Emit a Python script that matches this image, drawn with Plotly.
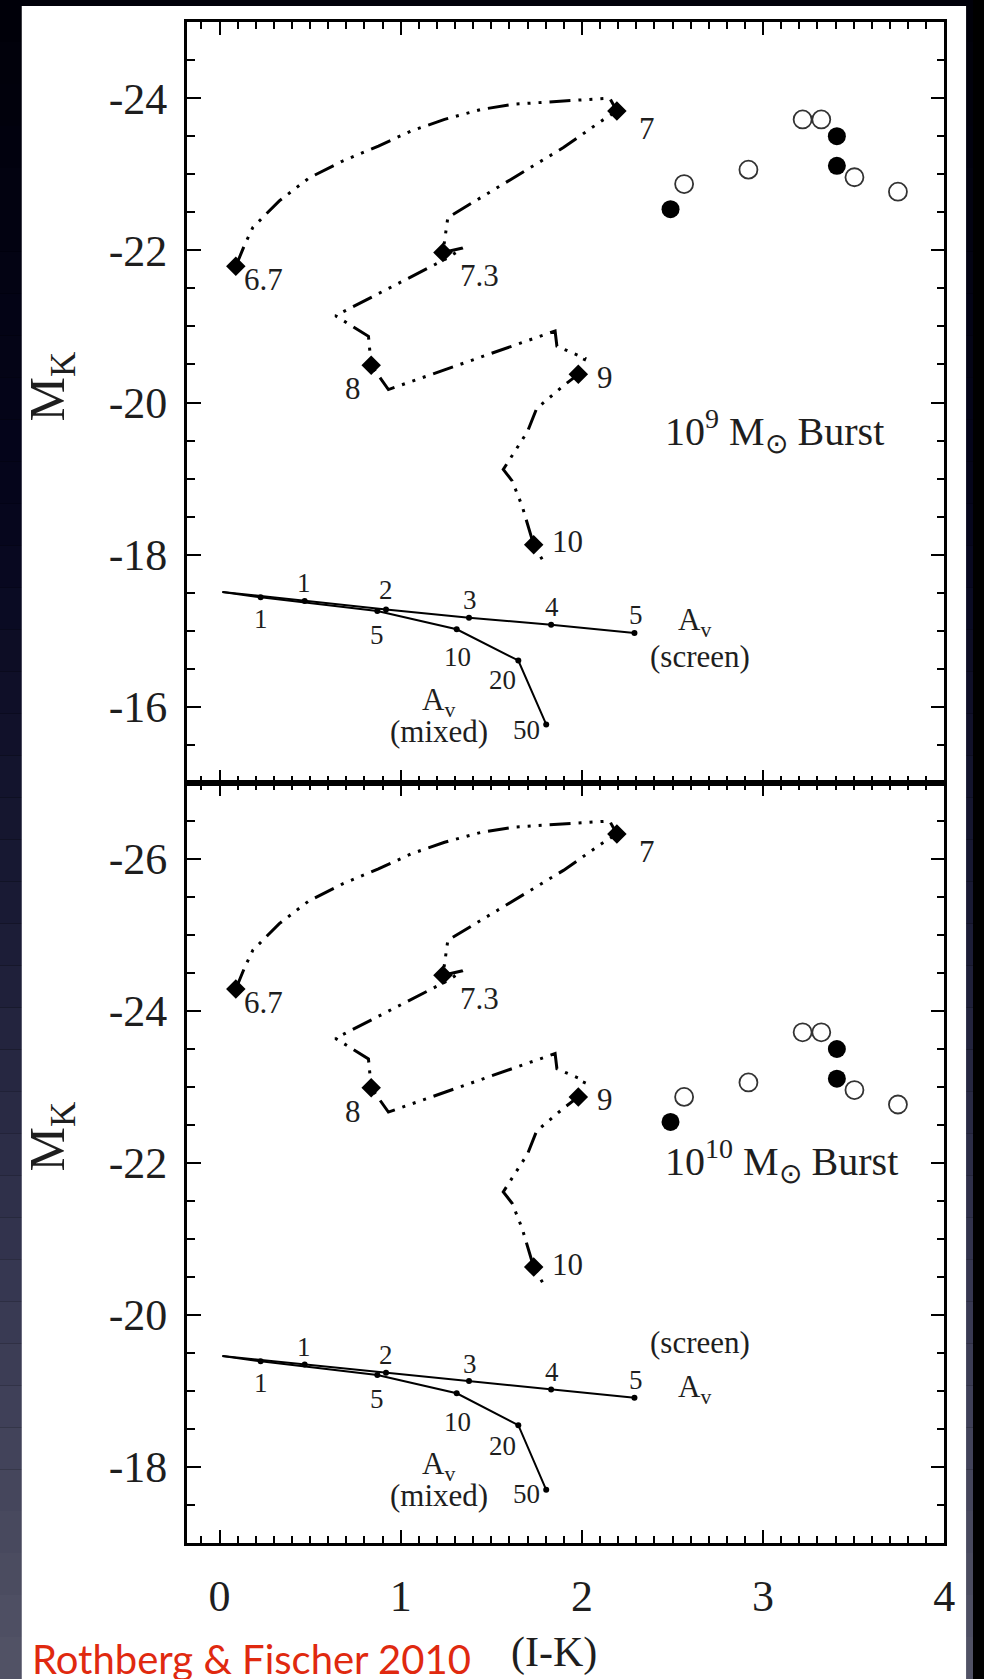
import plotly.graph_objects as go

W, H = 984, 1679
SERIF = "Liberation Serif, Times New Roman, serif"

# ---------------- data ----------------
# evolutionary track (I-K, M_K) for the 10^9 Msun burst (top panel)
track_x = [0.090, 0.140, 0.184, 0.330, 0.494, 0.677, 0.877, 1.060, 1.242, 1.442,
           1.625, 1.807, 1.989, 2.153, 2.193, 2.108, 1.898, 1.533, 1.260, 1.233,
           1.342, 1.260, 0.987, 0.640, 0.822, 0.837, 0.932, 1.852, 1.862, 2.017,
           1.980, 1.898, 1.750, 1.700, 1.625, 1.566, 1.615, 1.670, 1.734, 1.785]
track_m_top = [-21.79, -22.08, -22.30, -22.65, -22.95, -23.17, -23.37, -23.57, -23.72, -23.85,
               -23.92, -23.95, -23.98, -24.00, -23.83, -23.70, -23.35, -22.82, -22.43, -21.97,
               -22.03, -21.90, -21.57, -21.14, -20.87, -20.49, -20.17, -20.94, -20.74, -20.58,
               -20.37, -20.22, -19.92, -19.62, -19.34, -19.12, -18.97, -18.64, -18.13, -17.92]
# 10^10 Msun burst (bottom panel)
track_m_bot = [-24.29, -24.58, -24.80, -25.15, -25.45, -25.67, -25.87, -26.07, -26.22, -26.35,
               -26.42, -26.45, -26.48, -26.50, -26.33, -26.20, -25.85, -25.32, -24.93, -24.47,
               -24.53, -24.40, -24.07, -23.64, -23.37, -22.99, -22.67, -23.44, -23.24, -23.08,
               -22.87, -22.72, -22.42, -22.12, -21.84, -21.62, -21.47, -21.14, -20.63, -20.42]

age_labels = ["6.7", "7", "7.3", "8", "9", "10"]
age_x = [0.090, 2.193, 1.233, 0.837, 1.980, 1.734]
age_m_top = [-21.79, -23.83, -21.97, -20.49, -20.37, -18.13]
age_m_bot = [-24.29, -26.33, -24.47, -22.99, -22.87, -20.63]
age_lab_x = [0.243, 2.360, 1.433, 0.737, 2.130, 1.920]
age_lab_m_top = [-21.61, -23.60, -21.67, -20.18, -20.33, -18.17]
age_lab_m_bot = [-24.11, -26.10, -24.17, -22.68, -22.83, -20.67]

# observed galaxies
gal_open_x = [2.564, 2.919, 3.218, 3.321, 3.504, 3.744]
gal_open_m = [-22.87, -23.06, -23.72, -23.72, -22.96, -22.77]
gal_fill_x = [2.489, 3.407, 3.407]
gal_fill_m = [-22.54, -23.50, -23.11]

# reddening vectors (first point = origin)
screen_x = [0.016, 0.470, 0.919, 1.377, 1.830, 2.290]
screen_m_top = [-17.51, -17.39, -17.28, -17.17, -17.08, -16.97]
screen_m_bot = [-19.46, -19.35, -19.24, -19.13, -19.02, -18.91]
screen_labels = ["1", "2", "3", "4", "5"]
screen_lab_x = [0.464, 0.921, 1.380, 1.835, 2.297]
screen_lab_m_top = [-17.63, -17.53, -17.41, -17.31, -17.21]
screen_lab_m_bot = [-19.58, -19.47, -19.36, -19.25, -19.15]

mixed_x = [0.016, 0.227, 0.871, 1.309, 1.649, 1.803]
mixed_m_top = [-17.51, -17.44, -17.26, -17.02, -16.61, -15.77]
mixed_m_bot = [-19.46, -19.39, -19.21, -18.97, -18.55, -17.70]
mixed_labels = ["1", "5", "10", "20", "50"]
mixed_lab_x = [0.228, 0.869, 1.312, 1.562, 1.692]
mixed_lab_m_top = [-17.15, -16.95, -16.65, -16.35, -15.70]
mixed_lab_m_bot = [-19.10, -18.89, -18.59, -18.28, -17.64]

x_ticks = [0, 1, 2, 3, 4]
x_ticktext = ["0", "1", "2", "3", "4"]
y_ticks_top = [-24, -22, -20, -18, -16]
y_ticktext_top = ["-24", "-22", "-20", "-18", "-16"]
y_ticks_bot = [-26, -24, -22, -20, -18]
y_ticktext_bot = ["-26", "-24", "-22", "-20", "-18"]

# ---------------- figure ----------------
fig = go.Figure()

TXT = "#1e1e1e"
DASH = "21px,8px,3px,8px,3px,8px,3px,8px"


def panel(xa, ya, tm, am, sm, mm):
    fig.add_trace(go.Scatter(x=track_x, y=tm, xaxis=xa, yaxis=ya, mode="lines",
                             line=dict(color="black", width=3, dash=DASH),
                             hoverinfo="skip", showlegend=False))
    fig.add_trace(go.Scatter(x=age_x, y=am, xaxis=xa, yaxis=ya, mode="markers",
                             marker=dict(symbol="diamond", size=15, color="black"),
                             hoverinfo="skip", showlegend=False))
    fig.add_trace(go.Scatter(x=gal_open_x, y=gal_open_m, xaxis=xa, yaxis=ya, mode="markers",
                             marker=dict(symbol="circle-open", size=18, color="#333",
                                         line=dict(width=1.8, color="#333")),
                             hoverinfo="skip", showlegend=False))
    fig.add_trace(go.Scatter(x=gal_fill_x, y=gal_fill_m, xaxis=xa, yaxis=ya, mode="markers",
                             marker=dict(symbol="circle", size=18, color="black"),
                             hoverinfo="skip", showlegend=False))
    for vx, vm in ((screen_x, sm), (mixed_x, mm)):
        fig.add_trace(go.Scatter(x=vx, y=vm, xaxis=xa, yaxis=ya, mode="lines",
                                 line=dict(color="black", width=2),
                                 hoverinfo="skip", showlegend=False))
        fig.add_trace(go.Scatter(x=vx[1:], y=vm[1:], xaxis=xa, yaxis=ya, mode="markers",
                                 marker=dict(size=6, color="black"),
                                 hoverinfo="skip", showlegend=False))


panel("x", "y", track_m_top, age_m_top, screen_m_top, mixed_m_top)
panel("x2", "y2", track_m_bot, age_m_bot, screen_m_bot, mixed_m_bot)

annotations = []


def ann(text, x, y, xref, yref, size, xanchor="center", yanchor="middle",
        color=TXT, family=SERIF, angle=0):
    annotations.append(dict(text=text, x=x, y=y, xref=xref, yref=yref, showarrow=False,
                            font=dict(size=size, color=color, family=family),
                            xanchor=xanchor, yanchor=yanchor, textangle=angle))


for xr, yr, alm, slm, mlm in (("x", "y", age_lab_m_top, screen_lab_m_top, mixed_lab_m_top),
                              ("x2", "y2", age_lab_m_bot, screen_lab_m_bot, mixed_lab_m_bot)):
    for t, xx, yy in zip(age_labels, age_lab_x, alm):
        ann(t, xx, yy, xr, yr, 31)
    for t, xx, yy in zip(screen_labels, screen_lab_x, slm):
        ann(t, xx, yy, xr, yr, 27)
    for t, xx, yy in zip(mixed_labels, mixed_lab_x, mlm):
        ann(t, xx, yy, xr, yr, 27)

# vector captions
ann("A<sub>v</sub>", 2.62, -17.12, "x", "y", 31)
ann("(screen)", 2.654, -16.66, "x", "y", 31)
ann("A<sub>v</sub>", 1.21, -16.07, "x", "y", 31)
ann("(mixed)", 1.21, -15.68, "x", "y", 31)
ann("(screen)", 2.654, -19.64, "x2", "y2", 31)
ann("A<sub>v</sub>", 2.62, -19.02, "x2", "y2", 31)
ann("A<sub>v</sub>", 1.21, -18.01, "x2", "y2", 31)
ann("(mixed)", 1.21, -17.62, "x2", "y2", 31)

# burst captions
ann("10<sup>9</sup> M<sub>⊙</sub> Burst", 2.45, -19.63, "x", "y", 40, xanchor="left")
ann("10<sup>10</sup> M<sub>⊙</sub> Burst", 2.45, -22.03, "x2", "y2", 40, xanchor="left")

# axis titles
ann("M<sub>K</sub>", 52 / W, 1 - 386 / H, "paper", "paper", 50, angle=-90)
ann("M<sub>K</sub>", 52 / W, 1 - 1136 / H, "paper", "paper", 50, angle=-90)
ann("(I-K)", 560 / W, 1 - 1652 / H, "paper", "paper", 42)

# credit
ann("Rothberg &amp; Fischer 2010", 30 / W, 1 - 1659 / H, "paper", "paper", 40,
    xanchor="left", color="#e0290f", family="Lato, Open Sans, sans-serif")

# ---------------- background ----------------
shapes = []
stops = [(0, (0, 0, 8)), (500, (5, 5, 28)), (900, (25, 26, 52)),
         (1300, (55, 56, 82)), (1679, (82, 83, 102))]


def col_at(y):
    for (y0, c0), (y1, c1) in zip(stops[:-1], stops[1:]):
        if y0 <= y <= y1:
            t = (y - y0) / (y1 - y0)
            return "rgb(%d,%d,%d)" % tuple(round(a + (b - a) * t) for a, b in zip(c0, c1))
    return "rgb(%d,%d,%d)" % stops[-1][1]


nb = 40
for i in range(nb):
    y0 = H * i / nb
    y1 = H * (i + 1) / nb
    shapes.append(dict(type="rect", xref="paper", yref="paper", layer="below",
                       x0=0, x1=1, y0=1 - y1 / H, y1=1 - y0 / H,
                       fillcolor=col_at((y0 + y1) / 2), line=dict(width=0)))
shapes.append(dict(type="rect", xref="paper", yref="paper", layer="below",
                   x0=22 / W, x1=977 / W, y0=0, y1=1 - 6 / H,
                   fillcolor="white", line=dict(width=0)))

xdom = [189 / W, 955 / W]
top_dom = [1 - 783 / H, 1 - 22 / H]
bot_dom = [1 - 1543 / H, 1 - 783 / H]

tickfont = dict(family=SERIF, size=44, color=TXT)


def xaxis(anchor, labels):
    return dict(range=[-0.18, 4], domain=xdom, anchor=anchor, showline=True,
                linecolor="black", linewidth=2.5, mirror="allticks", ticks="inside",
                ticklen=13, tickwidth=2, tickcolor="black", tickvals=x_ticks,
                ticktext=x_ticktext, showticklabels=labels, tickfont=tickfont,
                ticklabelstandoff=12, showgrid=False, zeroline=False,
                minor=dict(ticks="inside", dtick=0.1, tick0=0, ticklen=7, tickwidth=1.5,
                           tickcolor="black", showgrid=False))


def yaxis(anchor, dom, rng, tv, tt):
    return dict(range=rng, domain=dom, anchor=anchor, showline=True, linecolor="black",
                linewidth=2.5, mirror="allticks", ticks="inside", ticklen=14, tickwidth=2,
                tickcolor="black", tickvals=tv, ticktext=tt, tickfont=tickfont,
                ticklabelstandoff=8, showgrid=False, zeroline=False,
                minor=dict(ticks="inside", dtick=0.5, tick0=0, ticklen=8, tickwidth=1.5,
                           tickcolor="black", showgrid=False))


fig.update_layout(
    width=W, height=H, margin=dict(l=0, r=0, t=0, b=0),
    paper_bgcolor="black", plot_bgcolor="white", showlegend=False,
    xaxis=xaxis("y", False), xaxis2=xaxis("y2", True),
    yaxis=yaxis("x", top_dom, [-15, -25], y_ticks_top, y_ticktext_top),
    yaxis2=yaxis("x2", bot_dom, [-17, -27], y_ticks_bot, y_ticktext_bot),
    annotations=annotations, shapes=shapes,
)

fig.write_html("out.html")
